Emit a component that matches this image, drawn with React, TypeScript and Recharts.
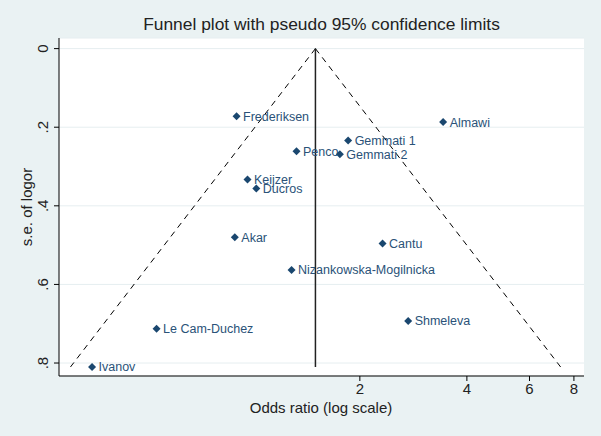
import { ScatterChart, Scatter, XAxis, YAxis, CartesianGrid } from "recharts";

const studies = [
    "Frederiksen", "Almawi", "Gemmati 1", "Penco", "Gemmati 2", "Keijzer", "Ducros",
    "Akar", "Cantu", "Nizankowska-Mogilnicka", "Shmeleva", "Le Cam-Duchez", "Ivanov",
];
const oddsRatios = [0.90, 3.43, 1.854, 1.327, 1.757, 0.966, 1.023, 0.89, 2.317, 1.285, 2.735, 0.536, 0.353];
const stdErrors = [0.172, 0.187, 0.234, 0.261, 0.269, 0.333, 0.356, 0.48, 0.496, 0.563, 0.693, 0.713, 0.81];

// pooled estimate and pseudo 95% limits (top and bottom of the funnel)
const funnelSE = [0, 0.81];
const pooledOR = [1.5, 1.5];
const lowerLimitOR = [1.5, 0.307];
const upperLimitOR = [1.5, 7.34];

const xTicks = [2, 4, 6, 8];
const yTicks = [0, 0.2, 0.4, 0.6, 0.8];

const FONT = "'Liberation Sans', Arial, sans-serif";
const NAVY = "#1a476f";

const points = studies.map((name, i) => ({ name, x: oddsRatios[i], y: stdErrors[i] }));
const line = (xs: number[]) => xs.map((x, i) => ({ x, y: funnelSE[i] }));

const Diamond = (props: any) => {
    const { cx, cy, payload } = props;
    return (
        <g>
            <path d={`M${cx},${cy - 4}L${cx + 4},${cy}L${cx},${cy + 4}L${cx - 4},${cy}Z`} fill={NAVY} />
            <text x={cx + 6.5} y={cy + 4.5} fontSize={12.5} fill="#2a5278" fontFamily={FONT}>
                {payload.name}
            </text>
        </g>
    );
};

const XTick = (props: any) => (
    <text x={props.x} y={394} textAnchor="middle" fontSize={15} fill="#222" fontFamily={FONT}>
        {props.payload.value}
    </text>
);

const YTick = (props: any) => {
    const v = props.payload.value;
    const label = v === 0 ? "0" : String(v).replace(/^0/, "");
    return (
        <text x={48} y={props.y} transform={`rotate(-90 48 ${props.y})`} textAnchor="middle"
            fontSize={15} fill="#222" fontFamily={FONT}>
            {label}
        </text>
    );
};

const NoDot = () => <g />;

export default function App() {
    return (
        <div style={{ position: "absolute", left: 0, top: 0, width: 601, height: 436, background: "#eaf2f3" }}>
            <ScatterChart width={601} height={436} margin={{ top: 38, right: 17, left: 0, bottom: 0 }}>
                <CartesianGrid vertical={false} stroke="#e6eef0" fill="#ffffff" fillOpacity={1} />
                <XAxis
                    type="number"
                    dataKey="x"
                    scale="log"
                    domain={[0.285, 8.54]}
                    allowDataOverflow
                    ticks={xTicks}
                    height={60}
                    tickSize={5}
                    axisLine={{ stroke: "#000" }}
                    tickLine={{ stroke: "#000" }}
                    tick={<XTick />}
                    label={{
                        content: () => (
                            <text x={321} y={413} textAnchor="middle" fontSize={15} fill="#222" fontFamily={FONT}>
                                Odds ratio (log scale)
                            </text>
                        ),
                    }}
                />
                <YAxis
                    type="number"
                    dataKey="y"
                    reversed
                    domain={[-0.027, 0.833]}
                    allowDataOverflow
                    ticks={yTicks}
                    width={59}
                    tickSize={5}
                    axisLine={{ stroke: "#000" }}
                    tickLine={{ stroke: "#000" }}
                    tick={<YTick />}
                    label={{
                        content: () => (
                            <text x={32} y={207} transform="rotate(-90 32 207)" textAnchor="middle"
                                fontSize={15} fill="#222" fontFamily={FONT}>
                                s.e. of logor
                            </text>
                        ),
                    }}
                />
                <Scatter data={line(lowerLimitOR)} line={{ stroke: "#000", strokeWidth: 1, strokeDasharray: "6 5" }}
                    shape={<NoDot />} isAnimationActive={false} />
                <Scatter data={line(upperLimitOR)} line={{ stroke: "#000", strokeWidth: 1, strokeDasharray: "6 5" }}
                    shape={<NoDot />} isAnimationActive={false} />
                <Scatter data={line(pooledOR)} line={{ stroke: "#222", strokeWidth: 1.5 }}
                    shape={<NoDot />} isAnimationActive={false} />
                <Scatter data={points} shape={<Diamond />} isAnimationActive={false} />
            </ScatterChart>
            <div style={{
                position: "absolute", left: 0, top: 14, width: 643, textAlign: "center",
                fontFamily: FONT, fontSize: 17.4, color: "#222", pointerEvents: "none",
            }}>
                Funnel plot with pseudo 95% confidence limits
            </div>
        </div>
    );
}
